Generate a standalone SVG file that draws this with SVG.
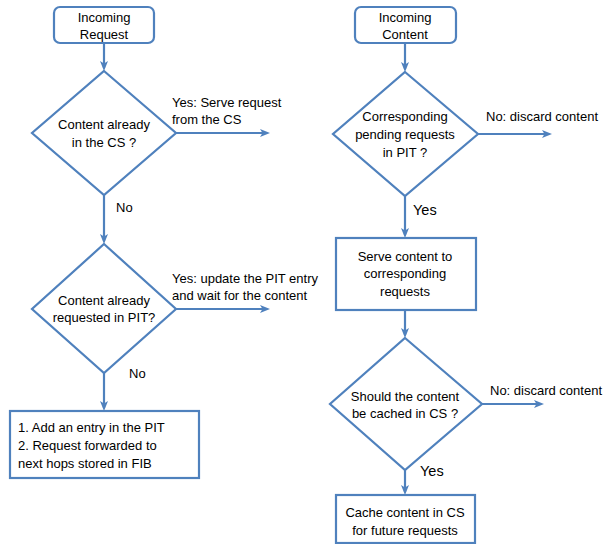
<svg xmlns="http://www.w3.org/2000/svg" width="614" height="544" viewBox="0 0 614 544">
<style>
.s{fill:#fff;stroke:#4f81bd;stroke-width:2.2}
.c{fill:none;stroke:#4f81bd;stroke-width:2.2}
text{font-family:"Liberation Sans",Arial,sans-serif;font-size:13px;fill:#000}
.m{text-anchor:middle}
.y{font-size:14.5px}
</style>
<defs>
<marker id="ah" markerUnits="userSpaceOnUse" viewBox="0 0 10 10" markerWidth="10" markerHeight="10" refX="7" refY="5" orient="auto">
<path d="M0,1 L10,5 L0,9 L2.5,5 z" fill="#4f81bd"/>
</marker>
</defs>
<rect width="614" height="544" fill="#fff"/>
<g id="connectors">
<line class="c" x1="104" y1="43" x2="104" y2="68" marker-end="url(#ah)"/>
<line class="c" x1="176" y1="133" x2="267" y2="133" marker-end="url(#ah)"/>
<line class="c" x1="104" y1="195" x2="104" y2="241" marker-end="url(#ah)"/>
<line class="c" x1="176" y1="309" x2="267" y2="309" marker-end="url(#ah)"/>
<line class="c" x1="104" y1="373" x2="104" y2="408" marker-end="url(#ah)"/>
<line class="c" x1="405" y1="43" x2="405" y2="69" marker-end="url(#ah)"/>
<line class="c" x1="478" y1="134" x2="549" y2="134" marker-end="url(#ah)"/>
<line class="c" x1="405" y1="196" x2="405" y2="235" marker-end="url(#ah)"/>
<line class="c" x1="405" y1="310" x2="405" y2="335" marker-end="url(#ah)"/>
<line class="c" x1="482" y1="404" x2="541" y2="404" marker-end="url(#ah)"/>
<line class="c" x1="405" y1="470" x2="405" y2="492" marker-end="url(#ah)"/>
<text x="172" y="107">Yes: Serve request</text>
<text x="172" y="124">from the CS</text>
<text x="116" y="212">No</text>
<text x="172" y="283">Yes: update the PIT entry</text>
<text x="172" y="300">and wait for the content</text>
<text x="129" y="378">No</text>
<text x="486" y="121">No: discard content</text>
<text class="y" x="413" y="215">Yes</text>
<text x="490" y="395">No: discard content</text>
<text class="y" x="420" y="476">Yes</text>
</g>
<g id="incoming-request">
<rect class="s" x="54" y="7" width="100" height="36" rx="6"/>
<text class="m" x="104" y="22">Incoming</text>
<text class="m" x="104" y="39">Request</text>
</g>
<g id="content-in-cs">
<polygon class="s" points="104,71 176,133 104,195 32,133"/>
<text class="m" x="104" y="129">Content already</text>
<text class="m" x="104" y="147">in the CS ?</text>
</g>
<g id="content-in-pit">
<polygon class="s" points="104,244 176,309 104,373 32,309"/>
<text class="m" x="104" y="305">Content already</text>
<text class="m" x="104" y="322">requested in PIT?</text>
</g>
<g id="add-entry">
<rect class="s" x="10" y="411" width="189" height="67"/>
<text x="18" y="432">1. Add an entry in the PIT</text>
<text x="18" y="450">2. Request forwarded to</text>
<text x="18" y="468">next hops stored in FIB</text>
</g>
<g id="incoming-content">
<rect class="s" x="355" y="7" width="101" height="36" rx="6"/>
<text class="m" x="405" y="22">Incoming</text>
<text class="m" x="405" y="39">Content</text>
</g>
<g id="pending-in-pit">
<polygon class="s" points="405,72 478,134 405,196 333,134"/>
<text class="m" x="405" y="121">Corresponding</text>
<text class="m" x="405" y="139">pending requests</text>
<text class="m" x="405" y="157">in PIT ?</text>
</g>
<g id="serve-content">
<rect class="s" x="336" y="238" width="140" height="72"/>
<text class="m" x="405" y="261">Serve content to</text>
<text class="m" x="405" y="278">corresponding</text>
<text class="m" x="405" y="296">requests</text>
</g>
<g id="should-cache">
<polygon class="s" points="405,338 482,404 405,470 330,404"/>
<text class="m" x="405" y="401">Should the content</text>
<text class="m" x="405" y="418">be cached in CS ?</text>
</g>
<g id="cache-content">
<rect class="s" x="336" y="495" width="139" height="48"/>
<text class="m" x="405" y="517">Cache content in CS</text>
<text class="m" x="405" y="535">for future requests</text>
</g>
</svg>
